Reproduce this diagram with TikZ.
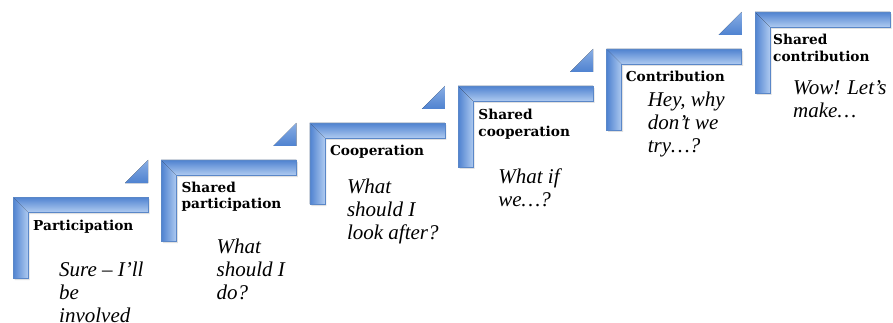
\documentclass[tikz,border=0pt]{standalone}
\usepackage{fontspec}
\setmainfont{Liberation Serif}
\newfontfamily\headfont{DejaVu Serif}
\usetikzlibrary{positioning}

\definecolor{stairdark}{HTML}{4F82D0}
\definecolor{stairlight}{HTML}{AECAF0}
\definecolor{stairedge}{HTML}{5A87C8}

\begin{document}
\begin{tikzpicture}[x=1pt, y=-1pt,
					stair/.pic={
						\coordinate (-corner) at (0,0);
						\fill[black, opacity=0.12] (1.5,2) -- (136.5,2) -- (136.5,17) -- (16.5,17) -- (16.5,83) -- (1.5,83) -- cycle;
						\fill[left color=stairdark, right color=stairlight] (0,0) -- (15,15) -- (15,81) -- (0,81) -- cycle;
						\fill[top color=stairdark, bottom color=stairlight] (0,0) -- (135,0) -- (135,15) -- (15,15) -- cycle;
						\draw[stairedge, line width=0.6pt] (0,0) -- (135,0) -- (135,15) -- (15,15) -- (15,81) -- (0,81) -- cycle;
					},
					tip/.pic={
						\fill[top color=stairlight!60!stairdark, bottom color=stairdark] (112,-14) -- (135,-14) -- (135,-37) -- cycle;
					},
					heading/.style={anchor=base west, inner sep=0pt, align=left, font=\headfont\bfseries\fontsize{13.7}{16.5}\selectfont},
					remark/.style={anchor=base west, inner sep=0pt, align=left, font=\itshape\fontsize{21}{23}\selectfont}
				]
				\useasboundingbox (0,0) rectangle (893,323);
				% the six steps, each one up and to the right of the last
				\pic (s1) at (13,197) {stair};
				\pic at (13,197) {tip};
				\pic (s2) at (161.4,160) {stair};
				\pic at (161.4,160) {tip};
				\pic (s3) at (309.8,123) {stair};
				\pic at (309.8,123) {tip};
				\pic (s4) at (458.2,86) {stair};
				\pic at (458.2,86) {tip};
				\pic (s5) at (606.6,49) {stair};
				\pic at (606.6,49) {tip};
				\pic (s6) at (755,12) {stair};
				% step names (base is the last line)
				\node[heading] (participation) at ([shift={(20,33)}]s1-corner) {Participation};
				\node[heading] (sharedparticipation) at ([shift={(20,48.5)}]s2-corner) {Shared\\participation};
				\node[heading] (cooperation) at ([shift={(20,33)}]s3-corner) {Cooperation};
				\node[heading] (sharedcooperation) at ([shift={(20,50.5)}]s4-corner) {Shared\\cooperation};
				\node[heading] (contribution) at ([shift={(19,33)}]s5-corner) {Contribution};
				\node[heading] (sharedcontribution) at ([shift={(18,49.5)}]s6-corner) {Shared\\contribution};
				% what is said on each step
				\node[remark] (saysure) at ([shift={(46,125)}]s1-corner) {Sure – I’ll\\be\\involved};
				\node[remark] (saywhat) at ([shift={(55,139)}]s2-corner) {What\\should I\\do?};
				\node[remark] (saylook) at ([shift={(37,116)}]s3-corner) {What\\should I\\look after?};
				\node[remark] (sayif) at ([shift={(40,120)}]s4-corner) {What if\\we…?};
				\node[remark] (saytry) at ([shift={(41,104)}]s5-corner) {Hey, why\\don’t we\\try…?};
				\node[remark] (saywow) at ([shift={(38,106)}]s6-corner) {Wow! Let’s\\make…};
				\end{tikzpicture}
\end{document}
